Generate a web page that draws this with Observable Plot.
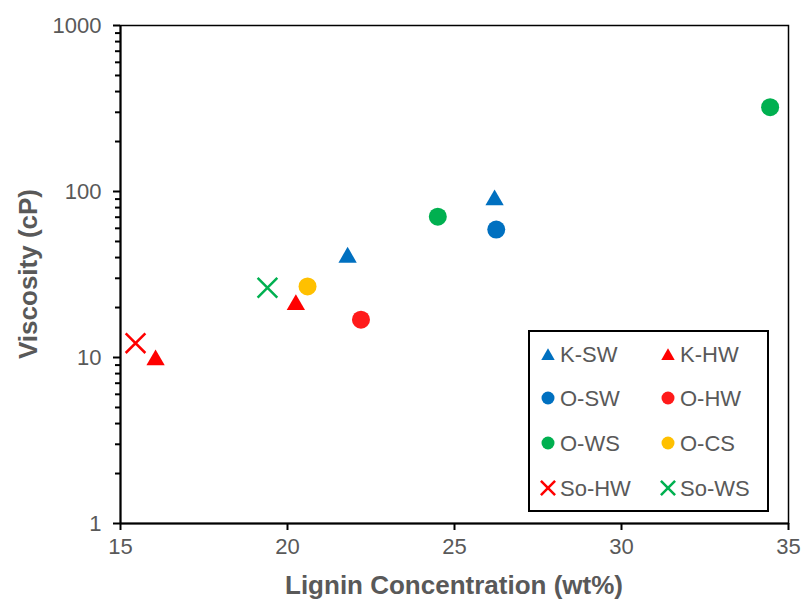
<!DOCTYPE html>
<html>
<head>
<meta charset="utf-8">
<script src="https://cdn.jsdelivr.net/npm/d3@7"></script>
<script src="https://cdn.jsdelivr.net/npm/@observablehq/plot@0.6"></script>
<style>
  html, body { margin: 0; padding: 0; background: #fff; }
  #chart { position: relative; width: 803px; height: 603px; }
</style>
</head>
<body>
<div id="chart"></div>
<script>
// ---- Data ----
const seriesNames   = ["K-SW", "K-HW", "O-SW", "O-HW", "O-WS", "O-CS", "So-HW", "So-WS"];
const seriesColors  = ["#0070C0", "#FF0000", "#0070C0", "#FF1A1A", "#00B050", "#FFC000", "#FF0000", "#00B050"];
const seriesSymbols = ["triangle", "triangle", "circle", "circle", "circle", "circle", "times", "times"];

const pointSeries    = ["K-SW", "K-SW", "K-HW", "K-HW", "O-SW", "O-HW", "O-WS", "O-WS", "O-CS", "So-HW", "So-WS"];
const pointLignin    = [21.8,   26.2,   16.05,  20.25,  26.25,  22.2,   24.5,   34.45,  20.6,   15.45,   19.4];
const pointViscosity = [41.5,   92,     10,     21.5,   59,     16.9,   70.5,   322,    26.8,   12.2,    26.3];

const xTicks = [15, 20, 25, 30, 35];
const yMajorTicks = [1, 10, 100, 1000];
const yMinorTicks = [1, 10, 100].flatMap(d => [2,3,4,5,6,7,8,9].map(k => k * d));

// ---- Build table ----
const points = pointSeries.map((s, i) => {
  const k = seriesNames.indexOf(s);
  return { series: s, x: pointLignin[i], y: pointViscosity[i], color: seriesColors[k], symbol: seriesSymbols[k] };
});

const textColor = "#595959";
const font = "'Liberation Sans', Arial, sans-serif";

const plot = Plot.plot({
  width: 803,
  height: 603,
  marginLeft: 120,
  marginRight: 15,
  marginTop: 25,
  marginBottom: 80,
  style: { fontFamily: font, background: "#fff", overflow: "visible" },
  x: { domain: [15, 35] },
  y: { type: "log", domain: [1, 1000] },
  marks: [
    Plot.frame({ stroke: "black", strokeWidth: 1.5 }),
    // y minor ticks
    Plot.axisY(yMinorTicks, { tickSize: 5, stroke: "black", strokeWidth: 2, text: null, label: null }),
    // y major ticks
    Plot.axisY(yMajorTicks, {
      tickSize: 7, tickPadding: 12, stroke: "black", strokeWidth: 2,
      tickFormat: d3.format("d"), fontSize: 22, fill: textColor,
      label: null
    }),
    Plot.axisX(xTicks, {
      tickSize: 7, tickPadding: 8, stroke: "black", strokeWidth: 2,
      tickFormat: d3.format("d"), fontSize: 22, fill: textColor,
      label: null
    }),
    Plot.ruleX([15], { stroke: "black", strokeWidth: 2 }),
    Plot.ruleY([1], { stroke: "black", strokeWidth: 2 }),
    // circles
    Plot.dot(points.filter(d => d.symbol === "circle"), {
      x: "x", y: "y", r: 9, symbol: "circle", fill: d => d.color, stroke: "none"
    }),
    // triangles
    Plot.dot(points.filter(d => d.symbol === "triangle"), {
      x: "x", y: "y", r: 6.8, symbol: "triangle", fill: d => d.color, stroke: "none", dy: 2.5
    }),
    // crosses
    Plot.dot(points.filter(d => d.symbol === "times"), {
      x: "x", y: "y", r: 9, symbol: "times", stroke: d => d.color, strokeWidth: 2.5, fill: "none"
    })
  ]
});

const svg = d3.select(plot);

// Axis titles
svg.append("text")
  .attr("x", (120 + 788) / 2).attr("y", 594)
  .attr("text-anchor", "middle")
  .attr("font-family", font).attr("font-weight", "bold").attr("font-size", 26)
  .attr("fill", textColor)
  .text("Lignin Concentration (wt%)");

svg.append("text")
  .attr("transform", `translate(37, ${(25 + 523) / 2}) rotate(-90)`)
  .attr("text-anchor", "middle")
  .attr("font-family", font).attr("font-weight", "bold").attr("font-size", 26)
  .attr("fill", textColor)
  .text("Viscosity (cP)");

// Legend
const lg = svg.append("g");
lg.append("rect")
  .attr("x", 529).attr("y", 331).attr("width", 239).attr("height", 180)
  .attr("fill", "white").attr("stroke", "black").attr("stroke-width", 2);

const colX = [548, 668];
const rowY = [354, 398, 443, 488];
const symMap = { circle: d3.symbolCircle, triangle: d3.symbolTriangle, times: d3.symbolTimes };
seriesNames.forEach((name, i) => {
  const cx = colX[i % 2], cy = rowY[Math.floor(i / 2)];
  const sym = seriesSymbols[i];
  const col = seriesColors[i];
  const size = sym === "circle" ? Math.PI * 6.5 * 6.5 : sym === "triangle" ? Math.PI * 5 * 5 : Math.PI * 6.5 * 6.5;
  const p = lg.append("path")
    .attr("d", d3.symbol(symMap[sym], size)())
    .attr("transform", `translate(${cx}, ${cy + (sym === "triangle" ? 2 : 0)})`);
  if (sym === "times") p.attr("fill", "none").attr("stroke", col).attr("stroke-width", 2.5);
  else p.attr("fill", col);
  lg.append("text")
    .attr("x", cx + 12).attr("y", cy).attr("dy", "0.36em")
    .attr("text-anchor", "start")
    .attr("font-family", font).attr("font-size", 22)
    .attr("fill", textColor)
    .text(name);
});

document.getElementById("chart").appendChild(plot);
</script>
</body>
</html>
